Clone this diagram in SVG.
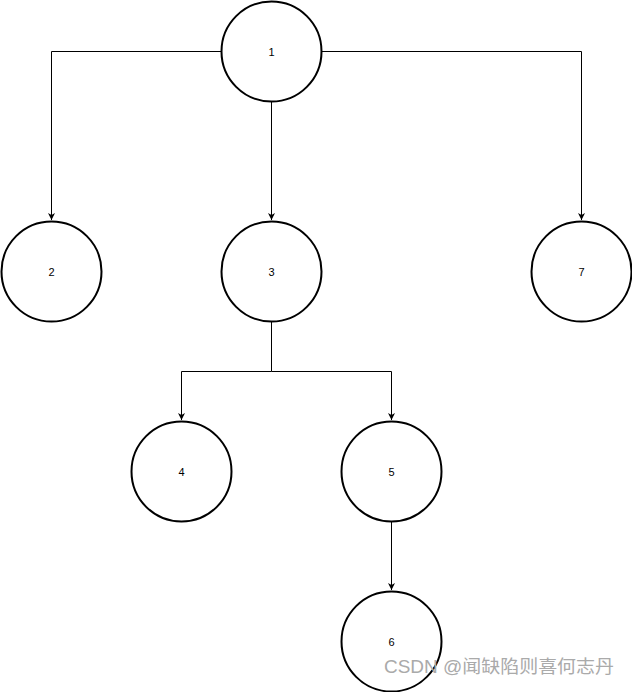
<svg xmlns="http://www.w3.org/2000/svg" width="632" height="692" viewBox="0 0 632 692">
<style>
.node circle{fill:#fff;stroke:#000;stroke-width:2}
.node text{font-family:"Liberation Sans",Arial,sans-serif;font-size:11px;fill:#000;text-anchor:middle;dominant-baseline:central}
.edge{fill:none;stroke:#000;stroke-width:1}
.wm{font-family:"Liberation Sans","Noto Sans CJK SC",sans-serif;font-size:18px;fill:#aaa}
</style>
<defs>
<marker id="arr" markerWidth="8" markerHeight="8" refX="7" refY="4" orient="auto" markerUnits="userSpaceOnUse">
<path d="M0,0.5 L7,4 L0,7.5 L2,4 Z" fill="#000"/>
</marker>
</defs>
<rect width="632" height="692" fill="#fff"/>
<g id="connectors">
<path class="edge" d="M221.5,51.5 H51.5 V220" marker-end="url(#arr)"/>
<path class="edge" d="M271.5,101.5 V220" marker-end="url(#arr)"/>
<path class="edge" d="M321.5,51.5 H581.5 V220" marker-end="url(#arr)"/>
<path class="edge" d="M271.5,321.5 V371.5 H181.5 V420" marker-end="url(#arr)"/>
<path class="edge" d="M271.5,371.5 H391.5 V420" marker-end="url(#arr)"/>
<path class="edge" d="M391.5,521.5 V590" marker-end="url(#arr)"/>
</g>
<g id="node1" class="node"><circle cx="271.5" cy="51.5" r="50"/><text x="271.5" y="51.5">1</text></g>
<g id="node2" class="node"><circle cx="51.5" cy="271.5" r="50"/><text x="51.5" y="271.5">2</text></g>
<g id="node3" class="node"><circle cx="271.5" cy="271.5" r="50"/><text x="271.5" y="271.5">3</text></g>
<g id="node7" class="node"><circle cx="581.5" cy="271.5" r="50"/><text x="581.5" y="271.5">7</text></g>
<g id="node4" class="node"><circle cx="181.5" cy="471.5" r="50"/><text x="181.5" y="471.5">4</text></g>
<g id="node5" class="node"><circle cx="391.5" cy="471.5" r="50"/><text x="391.5" y="471.5">5</text></g>
<g id="node6" class="node"><circle cx="391.5" cy="641.5" r="50"/><text x="391.5" y="641.5">6</text></g>
<text class="wm" x="384" y="673" textLength="230" lengthAdjust="spacingAndGlyphs">CSDN @闻缺陷则喜何志丹</text>
</svg>
